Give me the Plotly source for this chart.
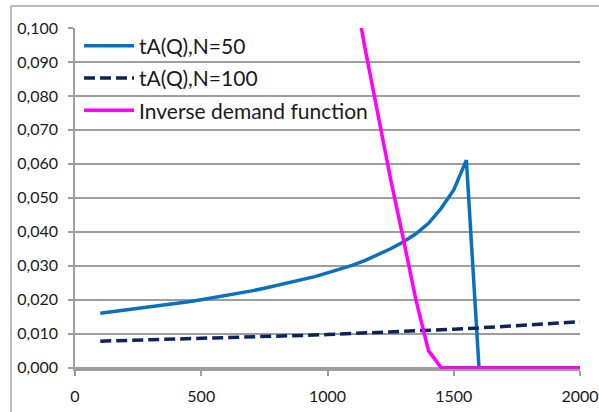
import plotly.graph_objects as go

# ---- data ----
q_blue = [100, 150, 200, 250, 300, 350, 400, 450, 500, 550, 600, 650, 700, 750, 800,
          850, 900, 950, 1000, 1050, 1100, 1150, 1200, 1250, 1300, 1350, 1400, 1450,
          1500, 1550, 1600, 1650, 1700, 1750, 1800, 1850, 1900, 1950, 2000]
t_n50 = [0.0160, 0.01645, 0.0169, 0.0174, 0.0179, 0.0184, 0.0189, 0.0194, 0.0200, 0.0206,
         0.0212, 0.0219, 0.0226, 0.0234, 0.0242, 0.0250, 0.0259, 0.0268, 0.0279, 0.0290,
         0.0302, 0.0316, 0.0332, 0.0350, 0.0370, 0.0394, 0.0425, 0.0469, 0.0523, 0.0611,
         0.0, 0.0, 0.0, 0.0, 0.0, 0.0, 0.0, 0.0, 0.0]

q_dash = [100, 200, 300, 400, 500, 600, 700, 800, 900, 1000, 1100, 1200, 1300, 1400,
          1500, 1600, 1700, 1800, 1900, 2000]
t_n100 = [0.00780, 0.00798, 0.00816, 0.00836, 0.00856, 0.00878, 0.00900, 0.00924,
          0.00949, 0.00975, 0.01003, 0.01032, 0.01064, 0.01097, 0.01132, 0.01170,
          0.01210, 0.01254, 0.01300, 0.01350]

q_dem = [1100, 1150, 1200, 1250, 1300, 1350, 1400, 1450, 1500, 1550, 1600, 1650, 1700,
         1750, 1800, 1850, 1900, 1950, 2000]
p_dem = [0.1140, 0.0935, 0.0745, 0.0555, 0.0380, 0.0200, 0.0050, 0.0, 0.0, 0.0, 0.0,
         0.0, 0.0, 0.0, 0.0, 0.0, 0.0, 0.0, 0.0]

names = ["tA(Q),N=50", "tA(Q),N=100", "Inverse demand function"]

x_ticks = [0, 500, 1000, 1500, 2000]
x_tick_labels = ["0", "500", "1000", "1500", "2000"]
y_ticks = [0.0, 0.01, 0.02, 0.03, 0.04, 0.05, 0.06, 0.07, 0.08, 0.09, 0.1]
y_tick_labels = ["0,000", "0,010", "0,020", "0,030", "0,040", "0,050",
                 "0,060", "0,070", "0,080", "0,090", "0,100"]

# ---- style ----
W, H = 599, 412
ML, MR, MT, MB = 75, 19, 28, 43
FONT = "Lato, 'Open Sans', sans-serif"
GRID = "#9e9e9e"

fig = go.Figure()
fig.add_trace(go.Scatter(x=q_blue, y=t_n50, mode="lines", name=names[0],
                         legendgroup="a",
                         line=dict(color="#0a70c0", width=3.5)))
fig.add_trace(go.Scatter(x=q_dash, y=t_n100, mode="lines", name=names[1],
                         legendgroup="b",
                         line=dict(color="#0b2460", width=3.5, dash="11px,5px")))
fig.add_trace(go.Scatter(x=q_dem, y=p_dem, mode="lines", name=names[2],
                         legendgroup="c",
                         line=dict(color="#ff00ff", width=3.5)))

pw = W - ML - MR
ph = H - MT - MB
fig.update_layout(
    width=W, height=H,
    margin=dict(l=ML, r=MR, t=MT, b=MB, pad=0, autoexpand=False),
    paper_bgcolor="white", plot_bgcolor="white",
    font=dict(family=FONT, size=16, color="#1a1a1a"),
    showlegend=True,
    legend=dict(x=0.008, y=1.007, xanchor="left", yanchor="top",
                bgcolor="rgba(0,0,0,0)", borderwidth=0,
                font=dict(family=FONT, size=21, color="#1a1a1a"),
                traceorder="grouped", tracegroupgap=2, itemwidth=50),
    xaxis=dict(range=[0, 2000], tickvals=x_ticks, ticktext=x_tick_labels,
               showgrid=False, zeroline=False, automargin=False,
               showline=True, linecolor=GRID, linewidth=1.5,
               ticks="outside", ticklen=5, tickwidth=1.5, tickcolor=GRID,
               ticklabelstandoff=7, tickfont=dict(size=16)),
    yaxis=dict(range=[-0.0004, 0.1], tickvals=y_ticks, ticktext=y_tick_labels,
               showgrid=True, gridcolor=GRID, gridwidth=1.5,
               zeroline=False, automargin=False,
               showline=True, linecolor=GRID, linewidth=1.5,
               ticks="outside", ticklen=5, tickwidth=1.5, tickcolor=GRID,
               ticklabelstandoff=7, tickfont=dict(size=16)),
    shapes=[
        dict(type="line", xref="paper", yref="paper",
             x0=(11 - ML) / pw, x1=(11 - ML) / pw, y0=(H - MB - 6) / ph, y1=-MB / ph - 0.01,
             line=dict(color="#a6a6a6", width=1.5)),
        dict(type="line", xref="paper", yref="paper",
             x0=(11 - ML) / pw, x1=1 + MR / pw + 0.01, y0=(H - MB - 6) / ph, y1=(H - MB - 6) / ph,
             line=dict(color="#a6a6a6", width=1.5)),
    ],
)

fig.write_html("out.html",
               config={"displayModeBar": False},
               post_script="document.body.style.margin='0';"
                           "document.body.style.overflow='hidden';")
